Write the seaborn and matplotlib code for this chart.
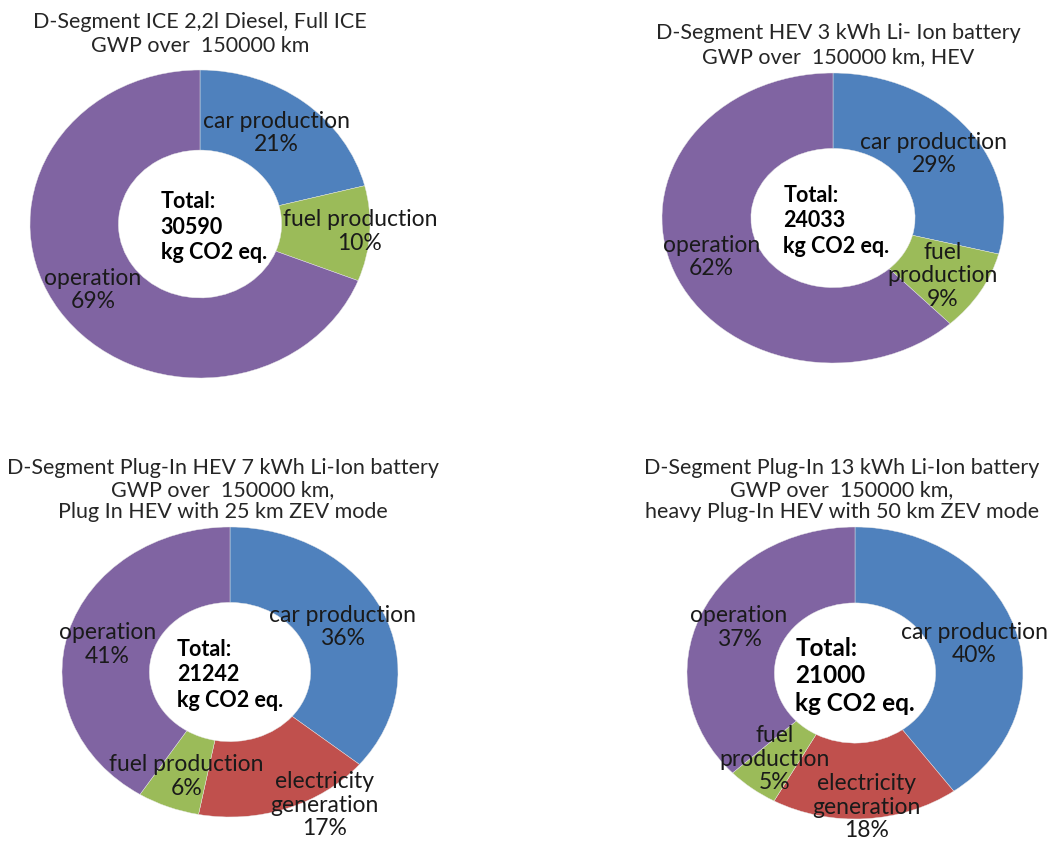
import matplotlib
matplotlib.use('Agg')
import matplotlib.pyplot as plt
import seaborn as sns

sns.set_style('white')
plt.rcParams['font.family'] = ['Lato', 'DejaVu Sans']

# =========================
# DATA
# =========================
ice_title = 'D-Segment ICE 2,2l Diesel, Full ICE\nGWP over  150000 km'
ice_parts = ['car production', 'fuel production', 'operation']
ice_labels = ['car production', 'fuel production', 'operation']
ice_share = [21, 10, 69]
ice_total = 30590

hev_title = 'D-Segment HEV 3 kWh Li- Ion battery\nGWP over  150000 km, HEV'
hev_parts = ['car production', 'fuel production', 'operation']
hev_labels = ['car production', 'fuel\nproduction', 'operation']
hev_share = [29, 9, 62]
hev_total = 24033

phev_title = ('D-Segment Plug-In HEV 7 kWh Li-Ion battery\nGWP over  150000 km,\n'
              'Plug In HEV with 25 km ZEV mode')
phev_parts = ['car production', 'electricity generation', 'fuel production', 'operation']
phev_labels = ['car production', 'electricity\ngeneration', 'fuel production', 'operation']
phev_share = [36, 17, 6, 41]
phev_total = 21242

hphev_title = ('D-Segment Plug-In 13 kWh Li-Ion battery\nGWP over  150000 km,\n'
               'heavy Plug-In HEV with 50 km ZEV mode')
hphev_parts = ['car production', 'electricity generation', 'fuel production', 'operation']
hphev_labels = ['car production', 'electricity\ngeneration', 'fuel\nproduction', 'operation']
hphev_share = [40, 18, 5, 37]
hphev_total = 21000

# =========================
# STYLE
# =========================
colors = {
    'car production': '#4F81BD',
    'fuel production': '#9BBB59',
    'electricity generation': '#C0504D',
    'operation': '#8064A2',
}

W, H = 1058, 843
fig = plt.figure(figsize=(W / 100, H / 100), dpi=100)

# (cx, cy, rx, ry) in pixels, title position, label positions (axes units), centre text size
layouts = [
    dict(box=(200, 224, 170, 154), title=(200, 34), tls=1.25,
         lab=[(0.45, 0.59), (0.94, -0.05), (-0.63, -0.43)], csize=15.5, cdx=0.08),
    dict(box=(833, 218, 171, 145), title=(838, 45), tls=1.2,
         lab=[(0.59, 0.44), (0.64, -0.40), (-0.71, -0.27)], csize=15.5, cdx=0.02),
    dict(box=(230, 672, 168, 145), title=(223, 490), tls=1.15,
         lab=[(0.67, 0.31), (0.56, -0.92), (-0.26, -0.72), (-0.73, 0.19)], csize=15.5, cdx=0.0),
    dict(box=(855, 673, 168, 146), title=(842, 490), tls=1.15,
         lab=[(0.71, 0.20), (0.07, -0.92), (-0.48, -0.59), (-0.69, 0.31)], csize=17.5, cdx=0.0),
]

charts = [
    (ice_title, ice_parts, ice_labels, ice_share, ice_total),
    (hev_title, hev_parts, hev_labels, hev_share, hev_total),
    (phev_title, phev_parts, phev_labels, phev_share, phev_total),
    (hphev_title, hphev_parts, hphev_labels, hphev_share, hphev_total),
]

for (title, parts, labels, share, total), lay in zip(charts, layouts):
    cx, cy, rx, ry = lay['box']
    ax = fig.add_axes([(cx - rx) / W, 1 - (cy + ry) / H, 2 * rx / W, 2 * ry / H])
    ax.pie(share, colors=[colors[p] for p in parts], startangle=90,
           counterclock=False, radius=1,
           wedgeprops=dict(width=0.52, edgecolor='#e8e8e8', linewidth=0.3))
    ax.set_aspect('auto')
    ax.set_xlim(-1, 1)
    ax.set_ylim(-1, 1)
    ax.axis('off')

    for text, val, (lx, ly) in zip(labels, share, lay['lab']):
        ax.text(lx, ly, f'{text}\n{val}%', ha='center', va='center',
                fontsize=16.5, color='#1a1a1a', linespacing=1.15, clip_on=False)

    ax.text(lay['cdx'], -0.02, f'Total:\n{total}\nkg CO2 eq.', ha='center', va='center',
            multialignment='left', fontsize=lay['csize'], fontweight='bold',
            color='black', linespacing=1.25)

    tx, ty = lay['title']
    fig.text(tx / W, 1 - ty / H, title, ha='center', va='center',
             fontsize=15.5, color='#262626', linespacing=lay['tls'])

fig.savefig('out.png', dpi=100, facecolor='white')
